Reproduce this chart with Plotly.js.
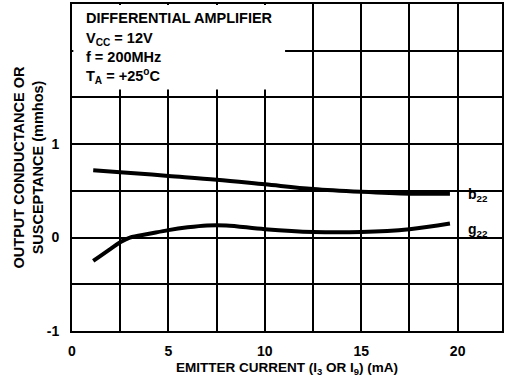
<!DOCTYPE html>
<html>
<head>
<meta charset="utf-8">
<script src="https://cdn.plot.ly/plotly-3.0.1.min.js"></script>
<style>html,body{margin:0;padding:0;background:#fff;}#chart{width:506px;height:384px;}</style>
</head>
<body>
<div id="chart"></div>
<script>
// Data
const currentB = [1.1, 2.5, 5, 7.5, 10, 12.5, 15, 17.5, 19.6];
const b22 = [0.72, 0.70, 0.66, 0.62, 0.57, 0.52, 0.49, 0.47, 0.47];
const currentG = [1.1, 2, 2.5, 3, 4, 5, 6, 7, 8, 10, 12.5, 15, 17.5, 19.6];
const g22 = [-0.25, -0.12, -0.05, 0.0, 0.04, 0.08, 0.11, 0.13, 0.13, 0.09, 0.06, 0.06, 0.09, 0.15];
const xTickVals = [0, 5, 10, 15, 20];
const xTickText = ["0", "5", "10", "15", "20"];
const yTickVals = [-1, 0, 1];
const yTickText = ["-1", "0", "1"];

const FONT = "Liberation Sans, Arial, Helvetica, sans-serif";

const traces = [
  {x: currentB, y: b22, mode: "lines", line: {color: "#000", width: 4, shape: "spline"}, name: "b22", showlegend: false},
  {x: currentG, y: g22, mode: "lines", line: {color: "#000", width: 4, shape: "spline"}, name: "g22", showlegend: false}
];

const layout = {
  width: 506, height: 384,
  margin: {l: 72, r: 4, t: 4, b: 53},
  paper_bgcolor: "#fff", plot_bgcolor: "#fff",
  font: {family: FONT, color: "#000", size: 14, weight: "bold"},
  xaxis: {
    range: [0, 22.3], tickvals: xTickVals, ticktext: xTickText,
    showgrid: true, gridcolor: "#000", gridwidth: 2, zeroline: false,
    minor: {tick0: 0, dtick: 2.5, showgrid: true, gridcolor: "#000", gridwidth: 2, ticks: ""},
    showline: true, linecolor: "#000", linewidth: 2, mirror: true,
    ticks: "", ticklabelstandoff: 6, tickfont: {family: FONT, size: 14, weight: "bold"},
    title: {text: "EMITTER CURRENT (I<sub>3</sub> OR I<sub>9</sub>) (mA)", font: {family: FONT, size: 13.5, weight: "bold"}, standoff: 5}
  },
  yaxis: {
    range: [-1, 2.5], tickvals: yTickVals, ticktext: yTickText,
    showgrid: true, gridcolor: "#000", gridwidth: 2, zeroline: false,
    minor: {tick0: 0, dtick: 0.5, showgrid: true, gridcolor: "#000", gridwidth: 2, ticks: ""},
    showline: true, linecolor: "#000", linewidth: 2, mirror: true,
    ticks: "", ticklabelstandoff: 8, tickfont: {family: FONT, size: 14, weight: "bold"},
    title: {text: "OUTPUT CONDUCTANCE OR<br>SUSCEPTANCE (mmhos)", font: {family: FONT, size: 14.5, weight: "bold"}, standoff: 0}
  },
  shapes: [
    {type: "rect", xref: "x", yref: "y", x0: 0.07, x1: 11.05, y0: 1.585, y1: 2.49, fillcolor: "#fff", line: {width: 0}, layer: "above"}
  ],
  annotations: [
    {xref: "x", yref: "y", x: 0.6, y: 2.35, xanchor: "left", yanchor: "middle", showarrow: false, align: "left", text: "DIFFERENTIAL AMPLIFIER", font: {family: FONT, size: 14.5, weight: "bold"}},
    {xref: "x", yref: "y", x: 0.6, y: 2.13, xanchor: "left", yanchor: "middle", showarrow: false, align: "left", text: "V<sub>CC</sub> = 12V", font: {family: FONT, size: 14.5, weight: "bold"}},
    {xref: "x", yref: "y", x: 0.6, y: 1.935, xanchor: "left", yanchor: "middle", showarrow: false, align: "left", text: "f = 200MHz", font: {family: FONT, size: 14.5, weight: "bold"}},
    {xref: "x", yref: "y", x: 0.6, y: 1.73, xanchor: "left", yanchor: "middle", showarrow: false, align: "left", text: "T<sub>A</sub> = +25<sup>o</sup>C", font: {family: FONT, size: 14.5, weight: "bold"}},
    {xref: "x", yref: "y", x: 20.45, y: 0.46, xanchor: "left", yanchor: "middle", showarrow: false, text: "b<sub>22</sub>", font: {family: FONT, size: 14, weight: "bold"}},
    {xref: "x", yref: "y", x: 20.45, y: 0.08, xanchor: "left", yanchor: "middle", showarrow: false, text: "g<sub>22</sub>", font: {family: FONT, size: 14, weight: "bold"}}
  ]
};

Plotly.newPlot("chart", traces, layout, {staticPlot: true, displayModeBar: false});
</script>
</body>
</html>
